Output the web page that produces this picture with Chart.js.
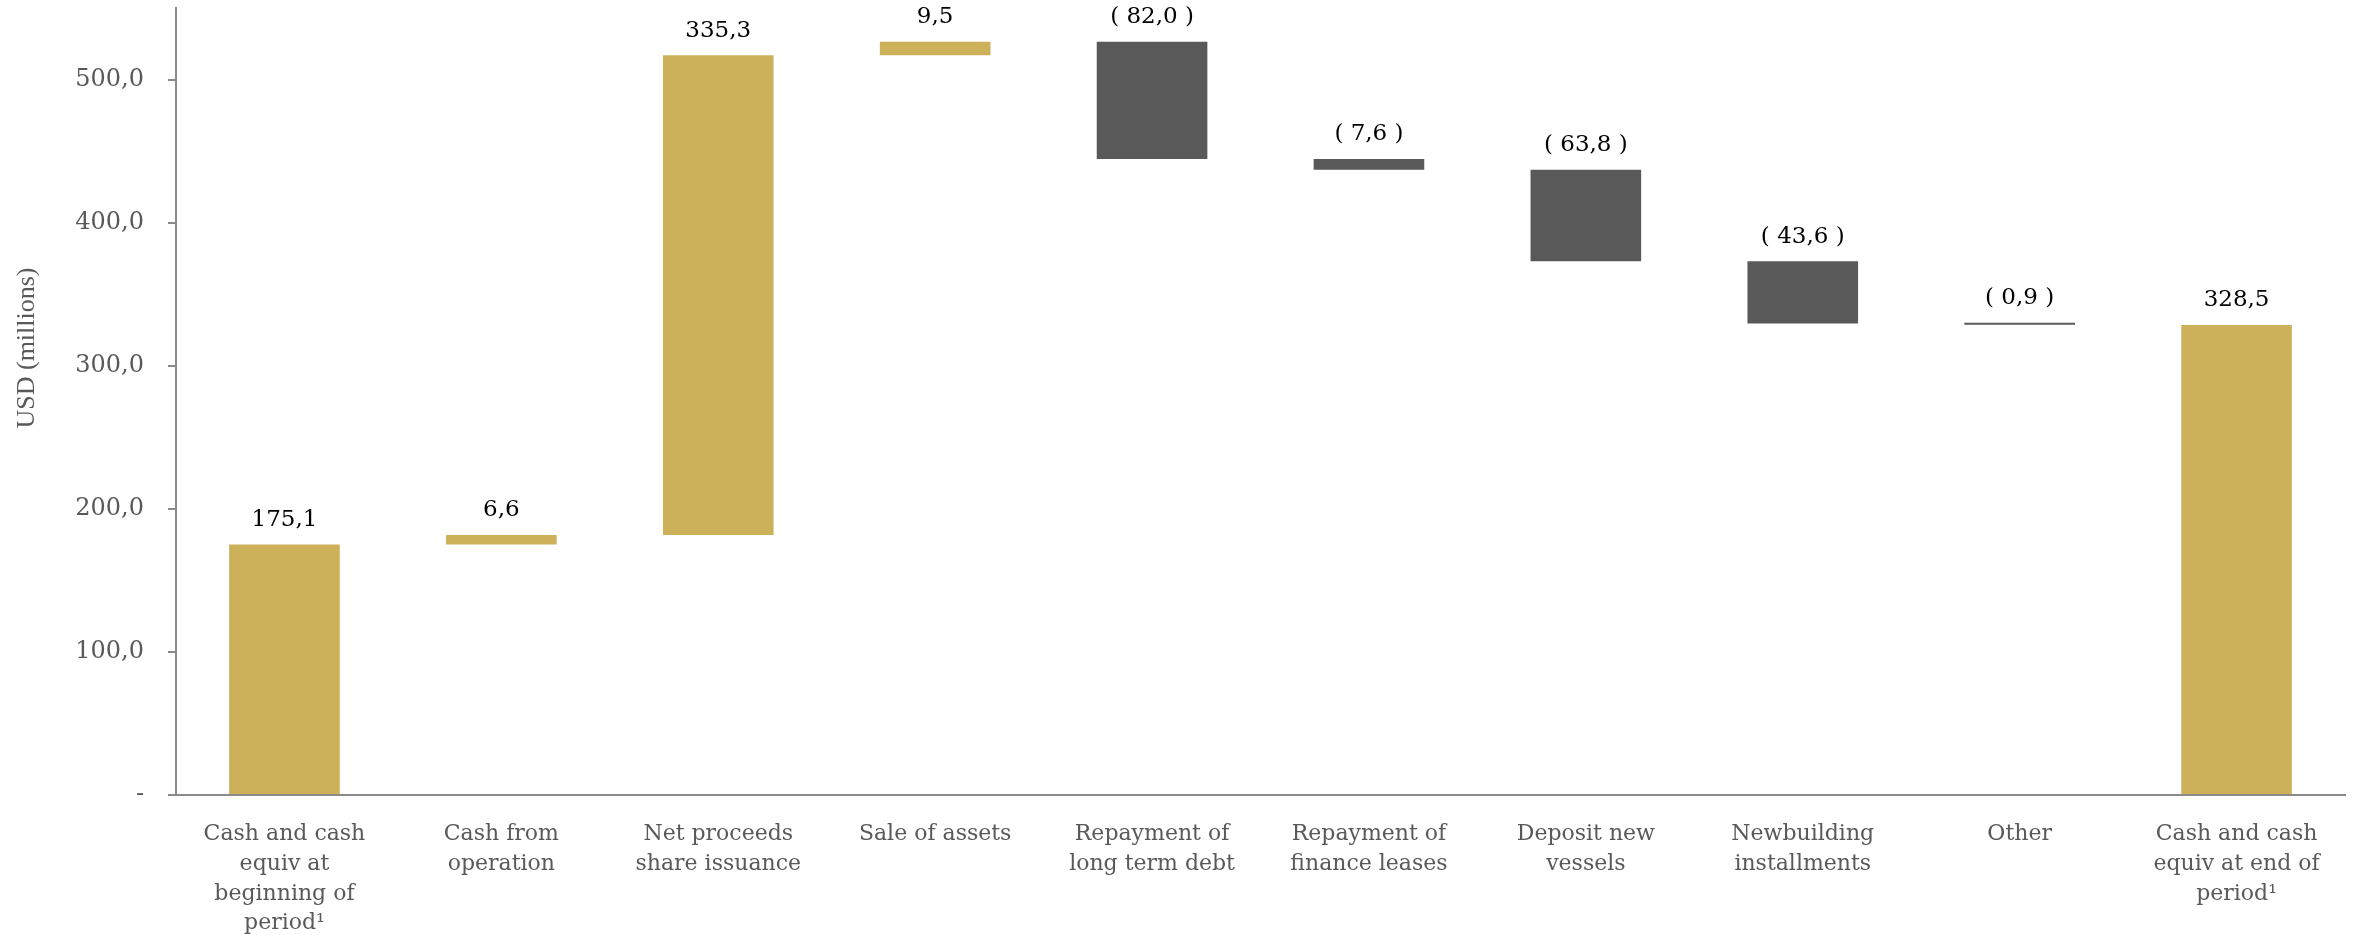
<!DOCTYPE html>
<html>
<head>
<meta charset="utf-8">
<script src="https://cdn.jsdelivr.net/npm/chart.js@4.4.1/dist/chart.umd.min.js"></script>
<style>
  html, body { margin: 0; padding: 0; background: #fff; }
  #wrap { width: 2356px; height: 935px; position: relative; }
</style>
</head>
<body>
<div id="wrap"><canvas id="cashflow"></canvas></div>
<script>
// kategorier (en rad per element i arrayen)
const categories = [
  ["Cash and cash", "equiv at", "beginning of", "period\u00B9"],
  ["Cash from", "operation"],
  ["Net proceeds", "share issuance"],
  ["Sale of assets"],
  ["Repayment of", "long term debt"],
  ["Repayment of", "finance leases"],
  ["Deposit new", "vessels"],
  ["Newbuilding", "installments"],
  ["Other"],
  ["Cash and cash", "equiv at end of", "period\u00B9"]
];
// förändringar i USD (millions)
const changes = [175.1, 6.6, 335.3, 9.5, -82.0, -7.6, -63.8, -43.6, -0.9, 328.5];
// true = totalstapel som börjar på noll
const isTotal = [true, false, false, false, false, false, false, false, false, true];
// y-axelns tick-värden
const yTicks = [0, 100, 200, 300, 400, 500];
const yTitle = "USD (millions)";

const gold = "#CDB15A";
const dark = "#595959";
const axisGrey = "#8a8a8a";
const textGrey = "#595959";
const serif = "'DejaVu Serif', 'Liberation Serif', serif";

// bygg flytande staplar (waterfall)
const ranges = [];
let running = 0;
changes.forEach((v, i) => {
  if (isTotal[i]) {
    ranges.push([0, v]);
    running = v;
  } else {
    ranges.push([running, running + v]);
    running += v;
  }
});

const fmt = (v) => {
  const s = Math.abs(v).toFixed(1).replace(".", ",");
  return v < 0 ? "( " + s + " )" : s;
};

// plugin som ritar värdena ovanför staplarna + y-titeln
const valueLabels = {
  id: "valueLabels",
  afterDatasetsDraw(chart) {
    const { ctx } = chart;
    const meta = chart.getDatasetMeta(0);
    ctx.save();
    ctx.font = "23px " + serif;
    ctx.fillStyle = "#000";
    ctx.textAlign = "center";
    ctx.textBaseline = "bottom";
    meta.data.forEach((bar, i) => {
      const top = Math.min(bar.y, bar.base);
      ctx.fillText(fmt(changes[i]), bar.x, top - 13);
    });
    ctx.restore();

    // y-axelns titel, lite ovanför mitten som i originalet
    ctx.save();
    ctx.font = "26px 'Liberation Serif', serif";
    ctx.fillStyle = textGrey;
    ctx.textAlign = "center";
    ctx.textBaseline = "middle";
    ctx.translate(27, 348);
    ctx.rotate(-Math.PI / 2);
    ctx.fillText(yTitle, 0, 0);
    ctx.restore();
  }
};

const ctx = document.querySelector("#cashflow").getContext("2d");

new Chart(ctx, {
  type: "bar",
  data: {
    labels: categories,
    datasets: [{
      data: ranges,
      backgroundColor: changes.map((v, i) => (isTotal[i] || v >= 0) ? gold : dark),
      barPercentage: 0.51,
      categoryPercentage: 1.0,
      minBarLength: 2,
      borderWidth: 0
    }]
  },
  options: {
    responsive: true,
    maintainAspectRatio: false,
    animation: false,
    layout: { padding: { top: 8, right: 11, left: 0, bottom: 0 } },
    plugins: {
      legend: { display: false },
      tooltip: { enabled: false }
    },
    scales: {
      x: {
        grid: { display: false },
        border: { display: true, color: axisGrey, width: 2 },
        ticks: {
          color: textGrey,
          font: { family: serif, size: 22, lineHeight: 1.36 },
          padding: 16,
          maxRotation: 0,
          autoSkip: false
        },
        afterFit(scale) {
          scale.height = 140;
          scale.paddingLeft = 0;
          scale.paddingRight = 0;
        }
      },
      y: {
        min: 0,
        max: 550,
        afterBuildTicks(scale) {
          scale.ticks = yTicks.map((v) => ({ value: v }));
        },
        grid: {
          drawOnChartArea: false,
          drawTicks: true,
          tickLength: 8,
          color: axisGrey,
          lineWidth: 2
        },
        border: { display: true, color: axisGrey, width: 2 },
        ticks: {
          color: textGrey,
          font: { family: serif, size: 24 },
          padding: 24,
          callback: (v) => v === 0 ? "-" : v.toFixed(1).replace(".", ",")
        },
        title: { display: false },
        afterFit(scale) {
          scale.width = 176;
          scale.paddingTop = 0;
          scale.paddingBottom = 0;
        }
      }
    }
  },
  plugins: [valueLabels]
});
</script>
</body>
</html>
